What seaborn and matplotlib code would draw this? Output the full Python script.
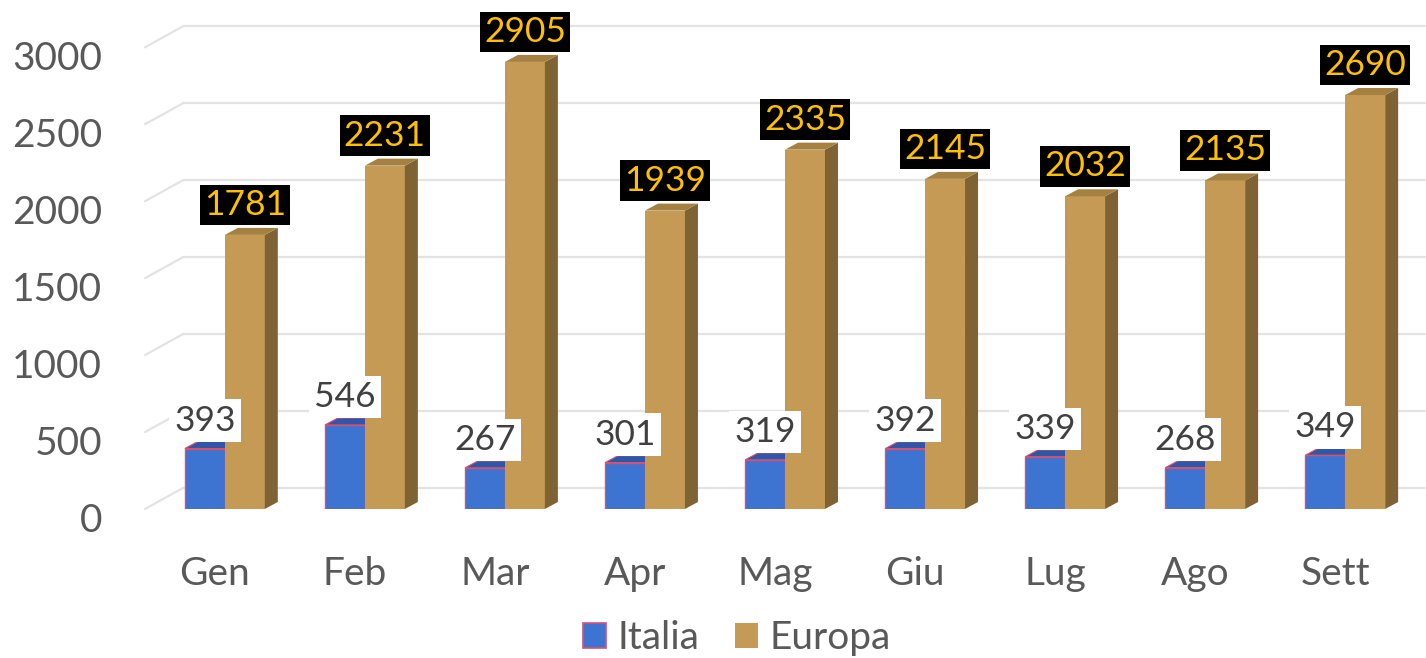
import matplotlib
matplotlib.use("Agg")
import matplotlib.pyplot as plt
import matplotlib.transforms as mtransforms
from matplotlib.patches import Polygon, Patch
import seaborn as sns
import pandas as pd

# ---- data ----
months = ["Gen", "Feb", "Mar", "Apr", "Mag", "Giu", "Lug", "Ago", "Sett"]
italia = [393, 546, 267, 301, 319, 392, 339, 268, 349]
europa = [1781, 2231, 2905, 1939, 2335, 2145, 2032, 2135, 2690]
series = ["Italia", "Europa"]
yticks = [0, 500, 1000, 1500, 2000, 2500, 3000]

# ---- style ----
C_IT = "#3D74D1"
C_IT_TOP = "#2D57A8"
C_IT_EDGE = "#D9506E"
C_EU = "#C49A54"
C_EU_SIDE = "#7F6335"
C_EU_TOP = "#A58141"
C_IT_SIDE = "#2A4F94"
GRID = "#E3E3E3"
TXT = "#595959"

sns.set_style("white")
plt.rcParams["font.family"] = ["Lato", "DejaVu Sans"]

DPI = 100
W, H = 1426, 658
fig = plt.figure(figsize=(W / DPI, H / DPI), dpi=DPI)

ax_left_px, ax_right_px = 145, 1425
zero_px = 509
px_per_unit = 0.1539
ytop = zero_px / px_per_unit
ax = fig.add_axes([ax_left_px / W, (H - zero_px) / H,
                   (ax_right_px - ax_left_px) / W, zero_px / H])

df = pd.DataFrame({
    "month": months * 2,
    "value": italia + europa,
    "series": [series[0]] * len(months) + [series[1]] * len(months),
})

sns.barplot(data=df, x="month", y="value", hue="series", order=months,
            hue_order=series, palette=[C_IT, C_EU], width=0.571,
            legend=False, ax=ax, saturation=1, zorder=3)

xlim = (-0.57, 8.57)
ax.set_xlim(*xlim)
ax.set_ylim(0, ytop)
px_per_x = (ax_right_px - ax_left_px) / (xlim[1] - xlim[0])

# 3D depth of bars
dx = 13 / px_per_x
dy = 7 / px_per_unit

n = len(months)
patches = list(ax.patches)
for i, p in enumerate(patches):
    is_it = i < n
    x0 = p.get_x()
    x1 = x0 + p.get_width()
    h = p.get_height()
    if is_it:
        p.set_edgecolor(C_IT_EDGE)
        p.set_linewidth(1.0)
        p.set_zorder(3)
        side_c, top_c, z = C_IT_SIDE, C_IT_TOP, 2.5
    else:
        p.set_edgecolor("none")
        p.set_zorder(4)
        side_c, top_c, z = C_EU_SIDE, C_EU_TOP, 4
    side = Polygon([(x1, 0), (x1 + dx, dy), (x1 + dx, h + dy), (x1, h)],
                   closed=True, facecolor=side_c, edgecolor="none", zorder=z)
    top = Polygon([(x0, h), (x1, h), (x1 + dx, h + dy), (x0 + dx, h + dy)],
                  closed=True, facecolor=top_c,
                  edgecolor=C_IT_EDGE if is_it else "none",
                  linewidth=0.8 if is_it else 0, zorder=z)
    ax.add_patch(side)
    ax.add_patch(top)

    # value labels
    cx = x0 + p.get_width() / 2
    if is_it:
        ax.annotate(f"{italia[i]}", (cx, h), xytext=(0, 28 * 0.72),
                    textcoords="offset points", ha="center", va="center",
                    fontsize=25.5, color="#404040", zorder=6,
                    bbox=dict(boxstyle="square,pad=0.15", fc="white", ec="none"))
    else:
        ax.annotate(f"{europa[i - n]}", (cx, h), xytext=(0, 30 * 0.72),
                    textcoords="offset points", ha="center", va="center",
                    fontsize=25.5, color="#FFC000", zorder=7,
                    bbox=dict(boxstyle="square,pad=0.12", fc="black", ec="none"))

# back-wall gridlines with diagonal connectors (3D look)
back_dx_px, back_dy_px = 38, 21
bdx = back_dx_px / (ax_right_px - ax_left_px)
bdy = back_dy_px / px_per_unit
ytr = ax.get_yaxis_transform()
for v in yticks:
    ax.plot([bdx, 1.0], [v + bdy, v + bdy], transform=ytr, color=GRID,
            lw=1.6, zorder=1, clip_on=False)
    ax.plot([0, bdx], [v, v + bdy], transform=ytr, color=GRID,
            lw=1.6, zorder=1, clip_on=False)

# axes cosmetics
for s in ax.spines.values():
    s.set_visible(False)
ax.set_xlabel("")
ax.set_ylabel("")
ax.set_yticks(yticks)
ax.set_yticklabels([str(v) for v in yticks])
ax.tick_params(axis="y", length=0, pad=31, labelsize=28, labelcolor=TXT)
ax.tick_params(axis="x", length=0, pad=34, labelsize=28, labelcolor=TXT)
for lab in ax.get_yticklabels():
    lab.set_transform(lab.get_transform() +
                      mtransforms.ScaledTranslation(0, -8 / DPI, fig.dpi_scale_trans))
for lab in ax.get_xticklabels():
    lab.set_transform(lab.get_transform() +
                      mtransforms.ScaledTranslation(-10 / DPI, 0, fig.dpi_scale_trans))
ax.grid(False)
ax.set_facecolor("white")

handles = [Patch(facecolor=C_IT, edgecolor=C_IT_EDGE, linewidth=1.2),
           Patch(facecolor=C_EU, edgecolor="none")]
fig.legend(handles, series, loc="center", ncol=2,
           bbox_to_anchor=(737 / W, 1 - 638 / H), frameon=False,
           fontsize=28, labelcolor=TXT, handlelength=0.6, handleheight=0.6,
           handletextpad=0.3, columnspacing=0.9)

fig.savefig("out.png", dpi=DPI, facecolor="white")
